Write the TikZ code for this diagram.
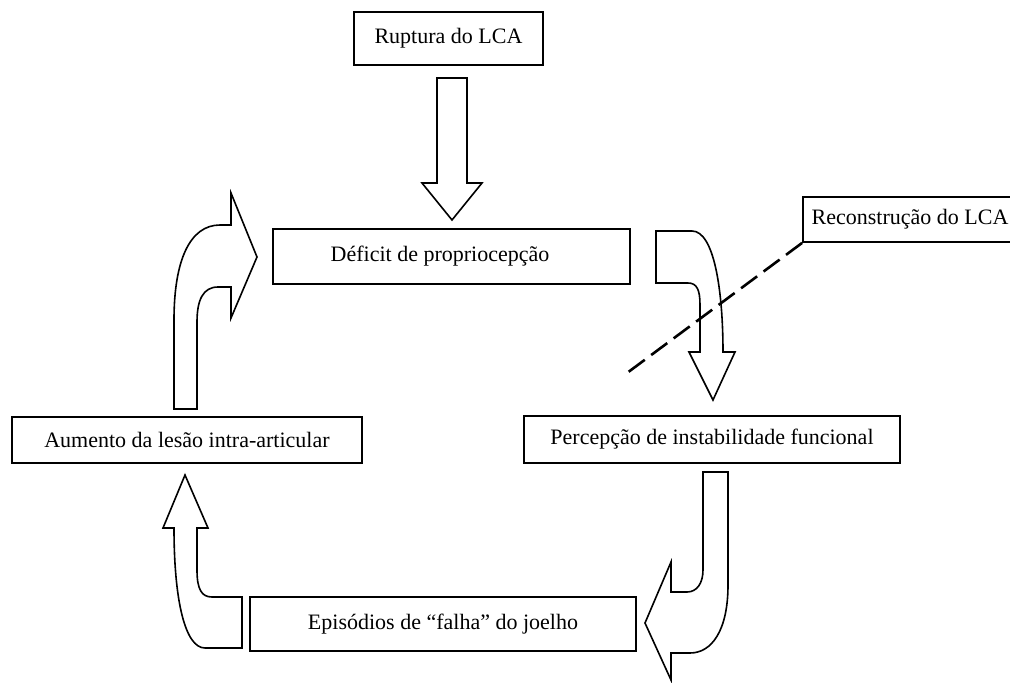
\documentclass[tikz,border=0pt]{standalone}
\usepackage{fontspec}
\setmainfont{Liberation Serif}
\begin{document}
\begin{tikzpicture}[x=1pt,y=-1pt,
  boxnode/.style={draw,line width=1.8pt,rectangle,inner sep=0pt,font=\fontsize{22}{26}\selectfont},
  blockarrow/.style={draw,line width=1.6pt,line join=miter,fill=white}]
\useasboundingbox (0,0) rectangle (1010,683);
\node[boxnode,minimum width=189pt,minimum height=53pt] (rup) at (448.5,38.5) {Ruptura do LCA};
\node[boxnode,minimum width=357pt,minimum height=55pt] (def) at (451.5,256.5) {};
\node[font=\fontsize{22}{26}\selectfont] (deftext) at (440,256.5) {Déficit de propriocepção};
\node[boxnode,minimum width=350pt,minimum height=46pt] (aum) at (187,440) {Aumento da lesão intra-articular};
\node[boxnode,minimum width=376pt,minimum height=47pt] (per) at (712,439.5) {Percepção de instabilidade funcional};
\node[boxnode,minimum width=386pt,minimum height=54pt] (epi) at (443,624) {Episódios de “falha” do joelho};
\node[boxnode,minimum width=214pt,minimum height=45pt] (rec) at (910,219.5) {Reconstrução do LCA};
% straight down arrow
\draw[blockarrow] (437,78) -- (467,78) -- (467,183) -- (482,183) -- (452,220) -- (422,183) -- (437,183) -- cycle;
% left up-curved arrow
\draw[blockarrow] (174,409) -- (174,320) .. controls (174,260) and (190,225) .. (220,225) -- (231,225) -- (231,193) -- (257,257) -- (231,318) -- (231,287) -- (218,287) .. controls (203,287) and (197,300) .. (197,322) -- (197,409) -- cycle;
% right top arrow
\draw[blockarrow] (656,231) -- (692,231) .. controls (714,231) and (723,290) .. (723,352) -- (735,352) -- (713,400) -- (689,352) -- (700,352) -- (700,305) .. controls (700,290) and (697,283) .. (688,283) -- (656,283) -- cycle;
% bottom right arrow
\draw[blockarrow] (703,472) -- (728,472) -- (728,585) .. controls (728,630) and (712,653) .. (690,653) -- (671,653) -- (671,680) -- (645,623) -- (671,562) -- (671,592) -- (687,592) .. controls (697,592) and (703,583) .. (703,570) -- cycle;
% bottom left arrow
\draw[blockarrow] (242,648) -- (205,648) .. controls (185,648) and (174,600) .. (174,528) -- (163,528) -- (185,475) -- (208,528) -- (197,528) -- (197,570) .. controls (197,590) and (202,597) .. (212,597) -- (242,597) -- cycle;
% dashed line
\coordinate (dashend) at (627,373);
\draw[line width=2.6pt,dash pattern=on 20pt off 8pt] (rec.south west) -- (dashend);
\end{tikzpicture}
\end{document}
